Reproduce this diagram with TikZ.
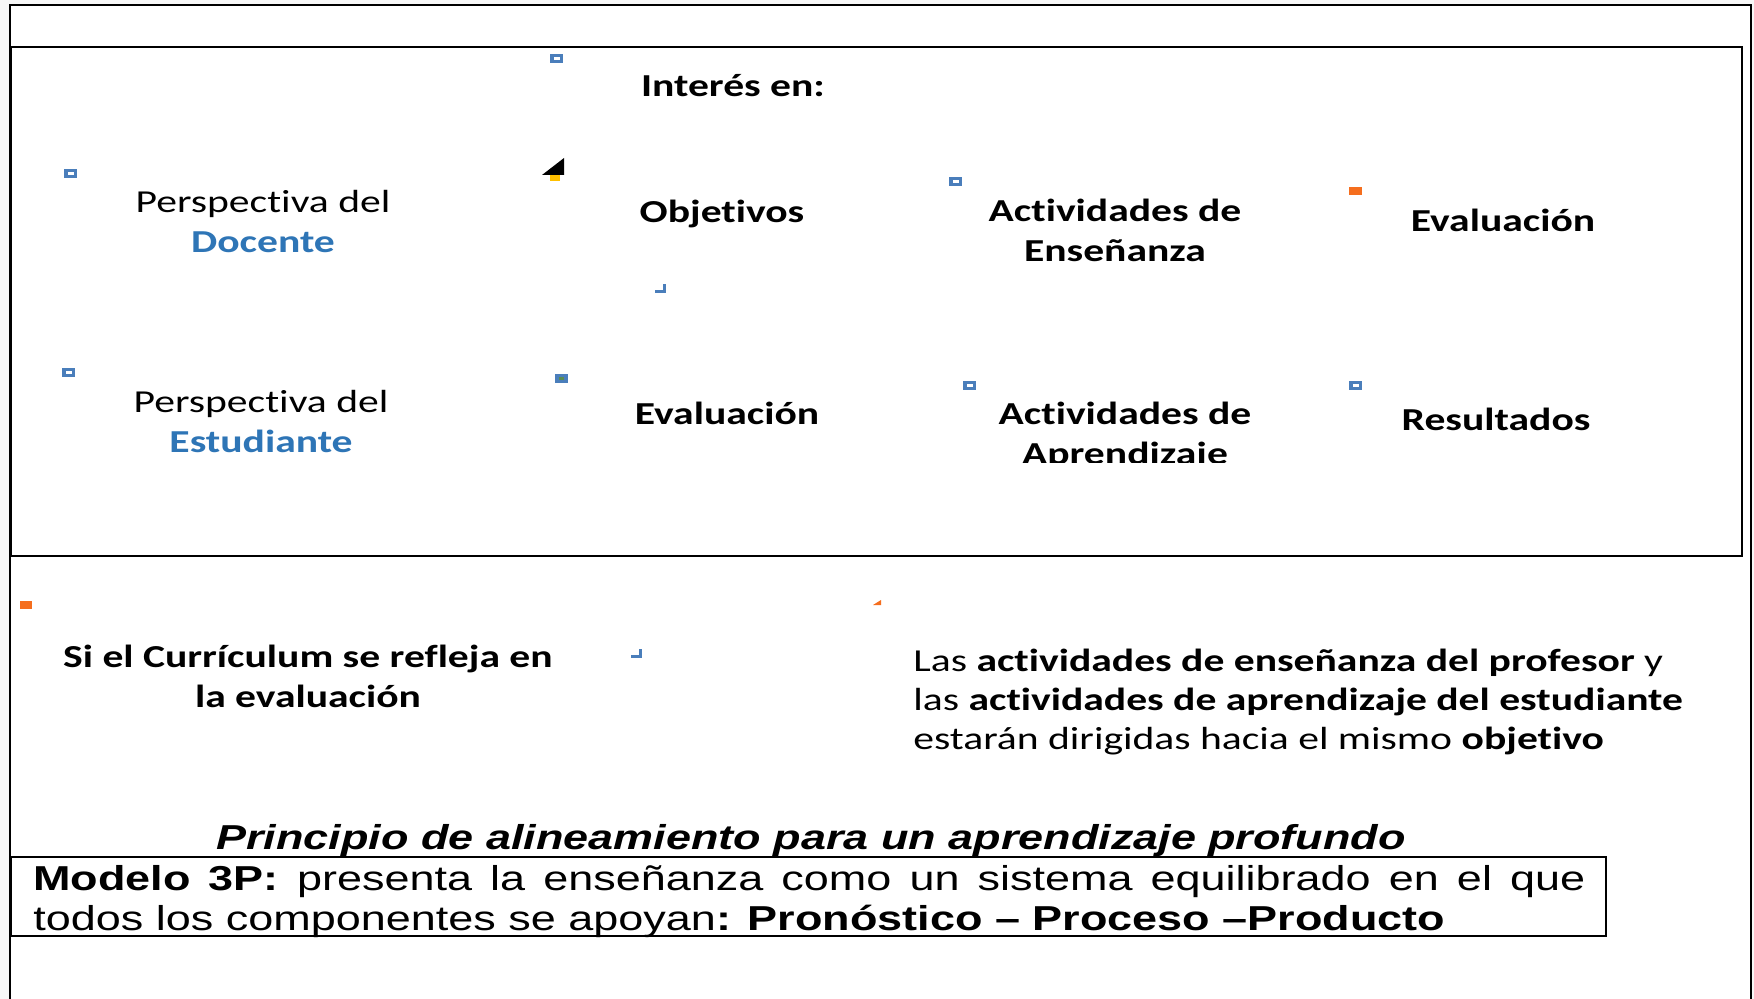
\documentclass[tikz,border=0pt]{standalone}
\usepackage{fontspec}
\setmainfont{Carlito}[FakeStretch=1.3, Ligatures=NoCommon]
\newfontfamily\arialfont{Liberation Sans}[FakeStretch=1.3]
\definecolor{azuldoc}{RGB}{46,117,182}
\definecolor{azulmarca}{RGB}{74,126,187}
\definecolor{naranja}{RGB}{245,110,30}
\definecolor{amarillo}{RGB}{255,192,0}
\definecolor{verdemarca}{RGB}{90,140,80}

\tikzset{
  cuadrito/.pic={\fill[azulmarca] (0,0) rectangle (13,9); \fill[white] (3.5,3) rectangle (9.5,6);},
  esquina/.pic={\fill[azulmarca] (8,0) rectangle (11,9); \fill[azulmarca] (0,6) rectangle (11,9);}
}

\begin{document}
\begin{tikzpicture}[x=0.5pt, y=-0.5pt,
  caja/.style={draw, line width=1.2pt},
  titulo/.style={font=\fontsize{16}{20}\selectfont\bfseries, align=center, anchor=base},
  persp/.style={font=\fontsize{16}{20}\selectfont, align=center, anchor=base},
  medio/.style={font=\fontsize{16}{19.4}\selectfont, anchor=base, inner sep=0pt},
  medionegro/.style={font=\fontsize{16}{19.6}\selectfont\bfseries, anchor=base, align=center}]
\useasboundingbox (0,0) rectangle (1754,999);
\fill[gray!6] (0,0) rectangle (1754,999);
\fill[white] (10,5) rectangle (1751,999);
\draw[line width=1pt] (10,1010) -- (10,5) -- (1751,5) -- (1751,1010);
\draw[caja] (11,47) rectangle (1742,556);

\pic at (550,54) {cuadrito};
\pic at (64,169) {cuadrito};
\pic at (62,368) {cuadrito};
\pic at (949,177) {cuadrito};
\pic at (963,381) {cuadrito};
\pic at (1349,381) {cuadrito};
\fill[naranja] (1349,187) rectangle (1362,195);
\fill[naranja] (20,601) rectangle (32,609);
\fill[naranja] (873,605) -- (881,605) -- (881,600) -- cycle;
\fill[azulmarca] (555,374) rectangle (568,383);
\fill[verdemarca] (559,377) rectangle (564,380);
\fill (542,175) -- (564,175) -- (564,158) -- cycle;
\fill[amarillo] (550,175) rectangle (560,181);
\pic at (655,284) {esquina};
\pic at (631,649) {esquina};

\node[titulo] (interes) at (733,97) {Interés en:};
\node[persp] (docente) at (263,253) {Perspectiva del\\\textcolor{azuldoc}{\bfseries Docente}};
\node[titulo] (objetivos) at (722,223) {Objetivos};
\node[titulo] (ensenanza) at (1115,262) {Actividades de\\Enseñanza};
\node[titulo] (evalsup) at (1503,232) {Evaluación};
\node[persp] (estudiante) at (261,452) {Perspectiva del\\\textcolor{azuldoc}{\bfseries Estudiante}};
\node[titulo] (evalinf) at (727,425) {Evaluación};
\begin{scope}
  \clip (850,300) rectangle (1300,463);
  \node[titulo] (aprendizaje) at (1125,465) {Actividades de\\Aprendizaje};
\end{scope}
\node[titulo] (resultados) at (1496,431) {Resultados};

\node[medionegro] (curriculum) at (308,707) {Si el Currículum se refleja en\\la evaluación};
\node[medio, align=left, anchor=base west] (alineacion) at (913,749) {Las \textbf{actividades de enseñanza del profesor} y\\las \textbf{actividades de aprendizaje del estudiante}\\estarán dirigidas hacia el mismo \textbf{objetivo}};

\node[font=\arialfont\fontsize{17.3}{20}\selectfont\bfseries\itshape, anchor=base] (principio) at (811,849) {Principio de alineamiento para un aprendizaje profundo};
\draw[line width=1pt] (11,857) rectangle (1606,936);
\node[font=\arialfont\fontsize{17.3}{20}\selectfont, anchor=base west, inner sep=0pt] (modelo) at (33,890) {\parbox[t]{776pt}{\hyphenpenalty=10000 \textbf{Modelo 3P:} presenta la enseñanza como un sistema equilibrado en el que todos los componentes se apoyan\textbf{: Pronóstico – Proceso –Producto}}};
\end{tikzpicture}
\end{document}
